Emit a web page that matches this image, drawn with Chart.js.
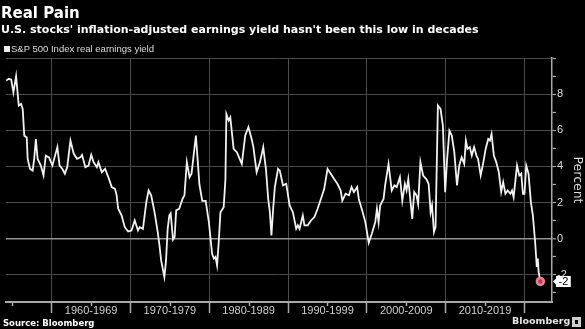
<!DOCTYPE html>
<html>
<head>
<meta charset="utf-8">
<script src="https://cdn.jsdelivr.net/npm/chart.js@4/dist/chart.umd.min.js"></script>
<style>
  html, body { margin: 0; padding: 0; background: #000; width: 585px; height: 329px; overflow: hidden; }
  #wrap { position: relative; width: 585px; height: 329px; }
  #chart { position: absolute; left: 0; top: 0; }
  .txt { position: absolute; white-space: nowrap; color: #fff; line-height: 1em; }
  #title { left: 1px; top: 5.6px; font: bold 15px "DejaVu Sans", sans-serif; line-height: 1em; }
  #subtitle { left: 1px; top: 24px; font: bold 11px "DejaVu Sans", sans-serif; line-height: 1em; }
  #legend { left: 4px; top: 44.3px; font: 9.5px "Liberation Sans", sans-serif; line-height: 1em; color: #ddd; }
  #legend .sw { display: inline-block; width: 6px; height: 6px; background: #eee; margin-right: 1px; vertical-align: 0px; }
  #source { left: 3px; top: 318.5px; font: bold 8.5px "DejaVu Sans", sans-serif; line-height: 1em; }
  #brand { left: 512px; top: 316px; font: bold 9.5px "DejaVu Sans", sans-serif; line-height: 1em; color: #e6e6e6; }
  #brandIcon { position: absolute; left: 572px; top: 317px; width: 9px; height: 10px; background: #cfcfcf; }
  #brandIcon i { position: absolute; left: 3px; top: 3px; width: 3px; height: 4px; background: #000; }
</style>
</head>
<body>
<div id="wrap">
  <canvas id="chart" width="585" height="329"></canvas>
  <div class="txt" id="title">Real Pain</div>
  <div class="txt" id="subtitle">U.S. stocks' inflation-adjusted earnings yield hasn't been this low in decades</div>
  <div class="txt" id="legend"><span class="sw"></span>S&amp;P 500 Index real earnings yield</div>
  <div class="txt" id="source">Source: Bloomberg</div>
  <div class="txt" id="brand">Bloomberg</div>
  <div id="brandIcon"><i></i></div>
</div>
<script>
// Observation dates as decimal years
const dates = [
  1954.23, 1954.55, 1954.86, 1955.14, 1955.48, 1955.82, 1956.11, 1956.32, 1956.52, 1956.83,
  1956.95, 1957.24, 1957.58, 1957.78, 1957.99, 1958.21, 1958.62, 1958.96, 1959.25, 1959.66,
  1960.09, 1960.72, 1961.00, 1961.34, 1961.67, 1961.97, 1962.38, 1962.80, 1963.22, 1963.64,
  1963.85, 1964.27, 1964.68, 1965.02, 1965.31, 1965.73, 1965.93, 1966.36, 1966.78, 1967.19,
  1967.62, 1968.03, 1968.24, 1968.44, 1968.87, 1969.28, 1969.70, 1970.13, 1970.54, 1970.95,
  1971.17, 1971.58, 1972.01, 1972.30, 1972.63, 1973.05, 1973.46, 1973.68, 1973.89, 1974.30,
  1974.51, 1974.72, 1974.93, 1975.10, 1975.40, 1975.60, 1975.80, 1976.19, 1976.60, 1976.85,
  1977.15, 1977.50, 1977.75, 1978.30, 1978.75, 1979.11, 1979.54, 1979.95, 1980.36, 1980.58,
  1980.79, 1980.99, 1981.20, 1981.42, 1981.83, 1982.05, 1982.17, 1982.46, 1982.67, 1983.09,
  1983.50, 1984.13, 1984.56, 1984.97, 1985.38, 1985.60, 1986.01, 1986.44, 1986.85, 1987.19,
  1987.48, 1987.69, 1987.89, 1988.11, 1988.32, 1988.73, 1988.95, 1989.36, 1989.77, 1990.20,
  1990.61, 1991.03, 1991.24, 1991.46, 1991.87, 1992.08, 1992.50, 1992.91, 1993.34, 1993.75,
  1994.17, 1994.59, 1995.01, 1995.42, 1995.85, 1996.26, 1996.68, 1996.89, 1997.30, 1997.73,
  1998.06, 1998.36, 1998.77, 1998.98, 1999.40, 1999.81, 2000.24, 2000.65, 2001.07, 2001.28,
  2001.49, 2001.69, 2001.91, 2002.12, 2002.32, 2002.75, 2003.16, 2003.50, 2003.79, 2004.20,
  2004.50, 2004.83, 2005.04, 2005.26, 2005.55, 2005.76, 2006.01, 2006.30, 2006.51, 2006.80,
  2007.14, 2007.55, 2007.84, 2008.09, 2008.27, 2008.52, 2008.72, 2009.02, 2009.35, 2009.65,
  2009.94, 2010.19, 2010.48, 2010.78, 2011.10, 2011.44, 2011.73, 2012.03, 2012.36, 2012.57,
  2012.78, 2013.07, 2013.32, 2013.61, 2013.91, 2014.11, 2014.45, 2014.79, 2015.08, 2015.41,
  2015.62, 2015.83, 2016.12, 2016.42, 2016.75, 2017.05, 2017.30, 2017.59, 2017.88, 2018.22,
  2018.43, 2018.63, 2019.06, 2019.35, 2019.60, 2019.81, 2020.01, 2020.23, 2020.52, 2020.82,
  2021.07, 2021.36, 2021.57, 2021.70, 2021.80, 2022.02
];

// S&P 500 real earnings yield, percent
const realYield = [
  8.75, 8.85, 8.80, 8.10, 9.00, 7.37, 7.46, 7.18, 5.70, 5.60,
  4.42, 3.87, 3.77, 4.42, 5.52, 4.42, 4.05, 3.50, 4.60, 4.50,
  4.05, 5.07, 4.05, 3.87, 3.60, 3.96, 5.43, 4.70, 4.42, 4.50,
  4.64, 3.96, 4.05, 4.64, 4.24, 3.96, 4.24, 3.68, 3.87, 3.41,
  2.86, 2.76, 2.40, 1.66, 1.29, 0.64, 0.40, 0.46, 1.01, 0.46,
  0.64, 0.55, 2.03, 2.67, 2.40, 1.47, 0.37, -0.37, -1.20, -2.12,
  -1.20, 0.55, 1.29, 1.40, -0.05, 0.10, 1.57, 1.66, 2.20, 2.40,
  4.24, 3.41, 3.60, 5.71, 3.00, 2.10, 2.10, 0.92, -0.83, -1.10,
  -1.00, -1.47, -0.18, 1.47, 1.75, 3.30, 6.90, 6.54, 6.72, 4.97,
  4.79, 4.14, 5.71, 6.17, 5.52, 5.07, 3.68, 4.24, 5.07, 3.87,
  2.20, 1.47, 0.18, 1.66, 2.86, 3.87, 3.77, 2.95, 3.04, 1.84,
  1.47, 0.55, 0.74, 0.55, 1.29, 0.74, 0.74, 1.01, 1.20, 1.66,
  2.20, 2.76, 3.87, 3.60, 3.30, 3.04, 2.67, 2.10, 2.49, 2.40,
  2.86, 2.58, 2.86, 2.20, 1.57, 0.92, -0.22, 0.30, 0.92, 1.66,
  0.92, 1.84, 2.03, 2.20, 2.95, 4.14, 2.67, 2.95, 2.86, 3.41,
  2.10, 3.04, 2.67, 3.30, 2.03, 1.10, 2.58, 2.40, 1.93, 4.24,
  3.50, 3.30, 3.04, 1.47, 1.84, 0.37, 0.64, 7.37, 7.18, 6.26,
  2.58, 4.42, 5.98, 5.71, 4.79, 2.95, 4.05, 4.51, 4.14, 5.43,
  4.97, 5.07, 4.60, 5.07, 4.60, 4.42, 3.50, 4.24, 4.97, 5.52,
  5.43, 5.80, 4.60, 4.24, 3.68, 2.58, 3.13, 2.49, 2.67, 2.49,
  2.67, 2.30, 4.05, 3.50, 3.60, 2.49, 2.49, 4.05, 3.60, 2.03,
  1.29, -0.18, -1.56, -1.10, -1.84, -2.36
];

// Decade labels on the time axis, each centred on its mid-decade tick
const decadeLabels = ['1960-1969', '1970-1979', '1980-1989', '1990-1999', '2000-2009', '2010-2019'];

const lastIdx = realYield.length - 1;
const AXIS_FONT = { family: '"Liberation Sans", Arial, sans-serif', size: 11 };
const GRID = '#4a4a4a';
const ZERO = '#929292';
const AXIS = '#a8a8a8';
const CLEAR = 'rgba(0,0,0,0)';

const isDecade = v => Math.round(v) % 10 === 0;

// Value tag on the right axis and the short mid-decade tick marks
const extras = {
  id: 'extras',
  afterDraw(chart) {
    const { ctx, chartArea } = chart;
    const xs = chart.scales.x;
    ctx.save();
    ctx.strokeStyle = AXIS;
    ctx.lineWidth = 1.5;
    xs.ticks.forEach(t => {
      if (!isDecade(t.value)) {
        const px = Math.round(xs.getPixelForValue(t.value)) + 0.5;
        ctx.beginPath();
        ctx.moveTo(px, chartArea.bottom);
        ctx.lineTo(px, chartArea.bottom + 4);
        ctx.stroke();
      }
    });

    const ys = chart.scales.y;
    const y = ys.getPixelForValue(realYield[lastIdx]);
    const text = String(Math.round(realYield[lastIdx]));
    ctx.font = '11px "Liberation Sans", Arial, sans-serif';
    const w = ctx.measureText(text).width + 5;
    const h = 11;
    const x0 = chartArea.right + 4;
    ctx.fillStyle = '#ffffff';
    ctx.beginPath();
    ctx.moveTo(x0 - 3, y);
    ctx.lineTo(x0, y - 3);
    ctx.lineTo(x0, y - h / 2);
    ctx.lineTo(x0 + w, y - h / 2);
    ctx.lineTo(x0 + w, y + h / 2);
    ctx.lineTo(x0, y + h / 2);
    ctx.lineTo(x0, y + 3);
    ctx.closePath();
    ctx.fill();
    ctx.fillStyle = '#000';
    ctx.textAlign = 'center';
    ctx.textBaseline = 'middle';
    ctx.fillText(text, x0 + w / 2, y + 0.5);
    ctx.restore();
  }
};

new Chart(document.getElementById('chart'), {
  type: 'line',
  data: {
    datasets: [{
      label: 'S&P 500 Index real earnings yield',
      data: dates.map((d, i) => ({ x: d, y: realYield[i] })),
      borderColor: '#f2f2f2',
      borderWidth: 1.8,
      tension: 0,
      pointRadius: ctx => (ctx.dataIndex === lastIdx ? 3.5 : 0),
      pointBackgroundColor: '#c8364f',
      pointBorderColor: '#ea8196',
      pointBorderWidth: 2.5,
      pointHoverRadius: 0
    }]
  },
  options: {
    responsive: false,
    animation: false,
    events: [],
    layout: { padding: { top: 58, left: 0, right: 0, bottom: 0 } },
    plugins: { legend: { display: false }, tooltip: { enabled: false } },
    scales: {
      x: {
        type: 'linear',
        min: 1954.2,
        max: 2023.5,
        afterFit: s => { s.height = 27; },
        ticks: {
          stepSize: 5,
          includeBounds: false,
          autoSkip: false,
          maxRotation: 0,
          minRotation: 0,
          padding: -9,
          color: '#d0d0d0',
          font: AXIS_FONT,
          callback: v => {
            const lab = decadeLabels.find(s => Number(s.slice(0, 4)) === v - 5);
            return lab || '';
          }
        },
        grid: {
          color: c => (c.tick && isDecade(c.tick.value) ? GRID : CLEAR),
          lineWidth: 1,
          tickLength: 11,
          tickWidth: 1.5,
          tickColor: c => (c.tick && isDecade(c.tick.value) ? AXIS : CLEAR)
        },
        border: { display: true, color: AXIS, width: 2 }
      },
      y: {
        position: 'right',
        min: -3.5,
        max: 10,
        afterFit: s => { s.width = 33; },
        ticks: {
          stepSize: 1,
          includeBounds: false,
          padding: 1,
          color: '#dddddd',
          font: AXIS_FONT,
          callback: v => (v % 2 === 0 && v < 10 ? String(v) : '')
        },
        grid: {
          color: c => {
            if (!c.tick) return GRID;
            const v = c.tick.value;
            if (v === 0) return ZERO;
            return v % 2 === 0 ? GRID : CLEAR;
          },
          lineWidth: c => (c.tick && c.tick.value === 0 ? 1.6 : 1),
          tickLength: 4,
          tickWidth: 1.2,
          tickColor: AXIS
        },
        border: { display: true, color: AXIS, width: 1.5 },
        title: {
          display: true,
          text: 'Percent',
          color: '#dddddd',
          padding: 0,
          font: { family: '"DejaVu Sans", sans-serif', size: 12.5 }
        }
      }
    }
  },
  plugins: [extras]
});
</script>
</body>
</html>
